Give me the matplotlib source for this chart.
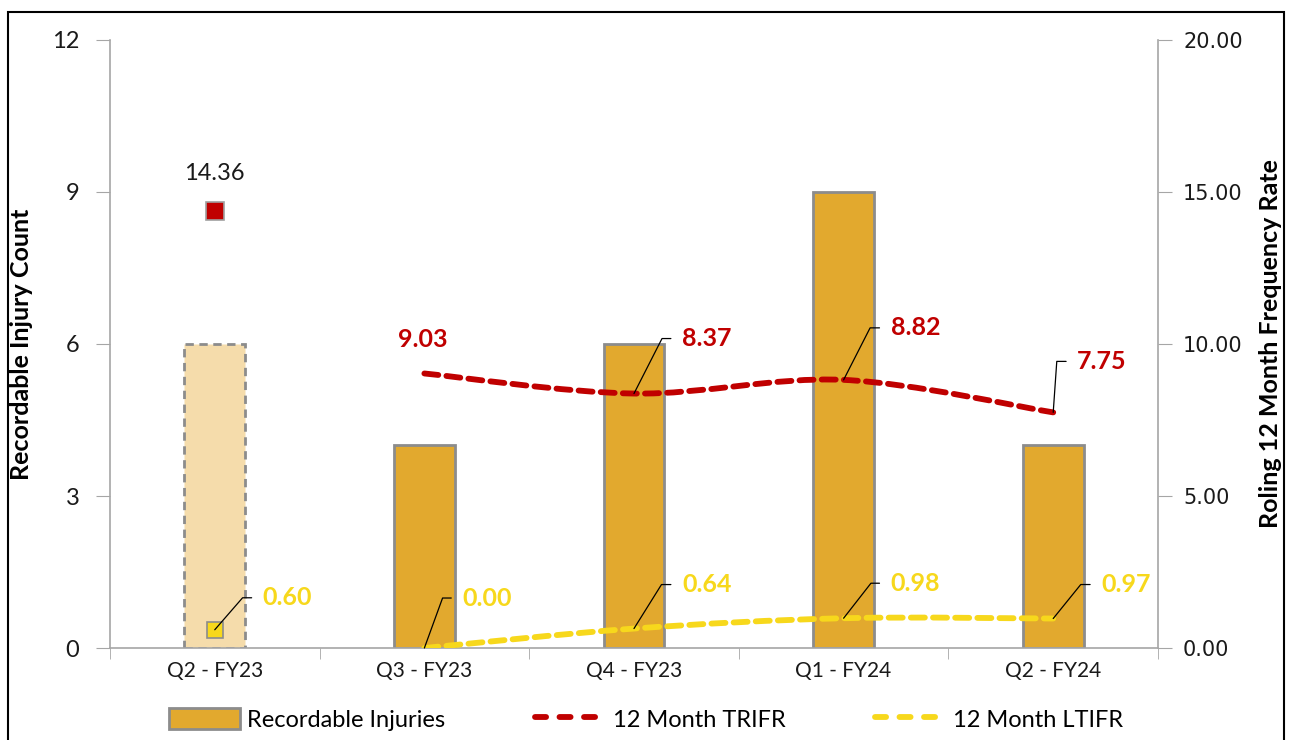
import matplotlib.pyplot as plt
import numpy as np
from matplotlib.path import Path
from matplotlib.patches import PathPatch, Rectangle
from matplotlib.lines import Line2D
from matplotlib.patches import Patch

plt.rcParams['font.family'] = ['Lato', 'DejaVu Sans']

quarters = ['Q2 - FY23', 'Q3 - FY23', 'Q4 - FY23', 'Q1 - FY24', 'Q2 - FY24']
injuries = [6, 4, 6, 9, 4]
trifr = [14.36, 9.03, 8.37, 8.82, 7.75]
ltifr = [0.60, 0.00, 0.64, 0.98, 0.97]

BAR = '#E2A92E'
BAR_OLD = '#F5DCAB'
EDGE = '#8C8C8C'
RED = '#C00000'
YEL = '#F7D81C'


def smooth_path(xs, ys):
    # bezier through the points, like a spreadsheet "smoothed line"
    pts = np.column_stack([xs, ys]).astype(float)
    ext = np.vstack([pts[0], pts, pts[-1]])
    verts = [pts[0]]
    codes = [Path.MOVETO]
    for i in range(len(pts) - 1):
        p0, p1, p2, p3 = ext[i], ext[i + 1], ext[i + 2], ext[i + 3]
        verts += [p1 + (p2 - p0) / 6, p2 - (p3 - p1) / 6, p2]
        codes += [Path.CURVE4] * 3
    return Path(verts, codes)


fig = plt.figure(figsize=(12.92, 7.40), dpi=100)
ax = fig.add_axes([0.0851, 0.1243, 0.8112, 0.8217])
ax2 = ax.twinx()

x = np.arange(len(quarters))
bars = ax.bar(x, injuries, width=0.29, color=BAR, edgecolor=EDGE, linewidth=2, zorder=2)
bars[0].set_facecolor(BAR_OLD)
bars[0].set_linestyle((0, (3, 2)))

ax.set_xlim(-0.5, len(quarters) - 0.5)
ax.set_ylim(0, 12)
ax.set_yticks([0, 3, 6, 9, 12])
ax.set_xticks(x)
ax.set_xticklabels(quarters)
ax.set_xticks(np.arange(len(quarters) + 1) - 0.5, minor=True)
ax.tick_params(axis='x', which='major', length=0, pad=9, labelsize=15, colors='#1a1a1a')
ax.tick_params(axis='x', which='minor', length=8, color='#A6A6A6', direction='out')
ax.tick_params(axis='y', length=10, color='#A6A6A6', pad=12, labelsize=17, colors='#1a1a1a')
ax.set_ylabel('Recordable Injury Count', fontsize=18, fontweight='bold', labelpad=14)

ax2.set_ylim(0, 20)
ax2.set_yticks([0, 5, 10, 15, 20])
ax2.set_yticklabels([f'{v:.2f}' for v in [0, 5, 10, 15, 20]], family='DejaVu Sans')
ax2.tick_params(axis='y', length=10, color='#A6A6A6', pad=8, labelsize=15, colors='#1a1a1a')
ax2.set_ylabel('Roling 12 Month Frequency Rate', fontsize=18, fontweight='bold', labelpad=12)

for a in (ax, ax2):
    a.spines['top'].set_visible(False)
    for s in ('left', 'right', 'bottom'):
        a.spines[s].set_color('#A6A6A6')
        a.spines[s].set_linewidth(1.2)
ax.spines['right'].set_visible(False)
ax2.spines['left'].set_visible(False)
ax2.spines['bottom'].set_visible(False)

dash = (0, (2.4, 1.4))
ax2.add_patch(PathPatch(smooth_path(x[1:], trifr[1:]), fill=False, edgecolor=RED,
                        linewidth=4.2, linestyle=dash, capstyle='round', zorder=3))
ax2.add_patch(PathPatch(smooth_path(x[1:], ltifr[1:]), fill=False, edgecolor=YEL,
                        linewidth=4.2, linestyle=dash, capstyle='round', zorder=3))
ax2.plot(x[0], trifr[0], 's', ms=13, color=RED, mec='#A0A0A0', mew=1.2, zorder=4)
ax2.plot(x[0], ltifr[0], 's', ms=12, color=YEL, mec='#8C8C8C', mew=1.2, zorder=4)

# value labels
ax2.annotate(f'{trifr[0]:.2f}', (x[0], trifr[0]), xytext=(0, 38), textcoords='offset pixels',
             ha='center', va='center', fontsize=17, color='#1a1a1a')
ax2.annotate(f'{trifr[1]:.2f}', (x[1], trifr[1]), xytext=(-2, 34), textcoords='offset pixels',
             ha='center', va='center', fontsize=18, fontweight='bold', color=RED)

leaders = [
    (x[2], trifr[2], RED, (48, 55)),
    (x[3], trifr[3], RED, (47, 52)),
    (x[4], trifr[4], RED, (24, 51)),
    (x[0], ltifr[0], YEL, (48, 32)),
    (x[1], ltifr[1], YEL, (38, 50)),
    (x[2], ltifr[2], YEL, (48, 44)),
    (x[3], ltifr[3], YEL, (47, 35)),
    (x[4], ltifr[4], YEL, (48, 34)),
]
for xi, yi, col, (dx, dy) in leaders:
    ang = np.degrees(np.arctan2(dy, dx - 20))
    ax2.annotate(f'{yi:.2f}', (xi, yi), xytext=(dx, dy), textcoords='offset pixels',
                 ha='left', va='center', fontsize=18, fontweight='bold', color=col, zorder=5,
                 arrowprops=dict(arrowstyle='-', color='black', lw=0.9, shrinkA=6, shrinkB=0,
                                 relpos=(0, 0.5),
                                 connectionstyle=f'angle,angleA=0,angleB={ang:.0f},rad=0'))

handles = [
    Patch(facecolor=BAR, edgecolor=EDGE, linewidth=2),
    Line2D([], [], color=RED, lw=4.2, linestyle=(0, (1.9, 2.3)), dash_capstyle='round'),
    Line2D([], [], color=YEL, lw=4.2, linestyle=(0, (1.9, 2.3)), dash_capstyle='round'),
]
fig.legend(handles, ['Recordable Injuries', '12 Month TRIFR', '12 Month LTIFR'],
           loc='center', bbox_to_anchor=(0.5, 0.028), ncol=3, frameon=False, fontsize=17,
           handlelength=3.0, handleheight=1.0, columnspacing=3.8, handletextpad=0.3)

fig.patches.append(Rectangle((0.006, -0.05), 0.988, 1.034, transform=fig.transFigure,
                             fill=False, edgecolor='black', linewidth=1.5))

fig.savefig('out.png', dpi=100)
